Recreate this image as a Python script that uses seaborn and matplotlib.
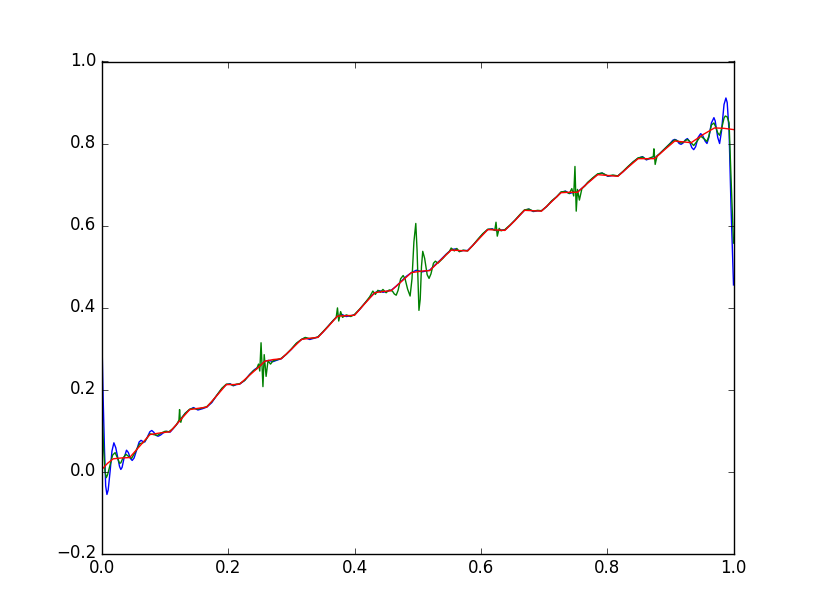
import seaborn as sns
from matplotlib import pyplot as plt
import numpy as np

# values
blue_x = [0.000, 0.002, 0.004, 0.006, 0.008, 0.010, 0.013, 0.016, 0.019, 0.022,
          0.025, 0.028, 0.030, 0.032, 0.035, 0.039, 0.042, 0.045, 0.048, 0.051,
          0.055, 0.059, 0.062, 0.065, 0.068, 0.072, 0.076, 0.079, 0.082, 0.086,
          0.089, 0.093, 0.097, 0.102,
          0.108, 0.116, 0.124, 0.132, 0.139, 0.145, 0.152, 0.159, 0.166, 0.174,
          0.182, 0.190, 0.197, 0.203, 0.208, 0.213, 0.218, 0.226, 0.234, 0.242,
          0.250, 0.258, 0.264, 0.271, 0.278, 0.284, 0.292, 0.300, 0.308, 0.316,
          0.322, 0.329, 0.336, 0.342, 0.350, 0.358, 0.366, 0.373, 0.380, 0.387,
          0.394, 0.400, 0.408, 0.416, 0.424, 0.432, 0.440, 0.445, 0.452, 0.458,
          0.466, 0.474, 0.482, 0.490, 0.498, 0.507, 0.513, 0.519, 0.527, 0.536,
          0.545, 0.553, 0.560, 0.566, 0.572, 0.579, 0.587, 0.595, 0.603, 0.611,
          0.618, 0.625, 0.632, 0.638, 0.646, 0.654, 0.662, 0.669, 0.676, 0.683,
          0.690, 0.696, 0.704, 0.712, 0.720, 0.727, 0.734, 0.740, 0.747, 0.753,
          0.761, 0.769, 0.777, 0.785, 0.792, 0.801, 0.809, 0.817, 0.825, 0.833,
          0.841, 0.849, 0.856, 0.862, 0.869, 0.875, 0.883, 0.891, 0.899, 0.904,
          0.907, 0.910, 0.914, 0.917, 0.920, 0.924, 0.927, 0.930, 0.934, 0.937,
          0.940, 0.944, 0.948, 0.951, 0.955, 0.958, 0.961, 0.965, 0.969, 0.971,
          0.975, 0.978, 0.981, 0.985, 0.988, 0.990, 0.993, 0.996, 1.000]
blue_y = [0.330, 0.180, 0.060, -0.035, -0.056, -0.045, 0.000, 0.050, 0.070, 0.058,
          0.035, 0.012, 0.005, 0.010, 0.032, 0.052, 0.046, 0.032, 0.027, 0.033,
          0.052, 0.072, 0.076, 0.073, 0.072, 0.084, 0.097, 0.100, 0.096, 0.088,
          0.086, 0.089, 0.094, 0.098,
          0.096, 0.110, 0.126, 0.142, 0.151, 0.156, 0.150, 0.153, 0.157, 0.168,
          0.186, 0.202, 0.212, 0.214, 0.209, 0.212, 0.213, 0.222, 0.237, 0.249,
          0.257, 0.269, 0.271, 0.268, 0.272, 0.275, 0.286, 0.298, 0.312, 0.322,
          0.326, 0.322, 0.325, 0.328, 0.340, 0.354, 0.368, 0.379, 0.383, 0.378,
          0.380, 0.382, 0.395, 0.410, 0.424, 0.436, 0.441, 0.437, 0.440, 0.442,
          0.452, 0.464, 0.476, 0.485, 0.491, 0.487, 0.489, 0.491, 0.503, 0.516,
          0.530, 0.541, 0.543, 0.537, 0.539, 0.539, 0.551, 0.565, 0.579, 0.590,
          0.592, 0.587, 0.589, 0.589, 0.600, 0.613, 0.626, 0.637, 0.640, 0.634,
          0.636, 0.636, 0.646, 0.659, 0.670, 0.681, 0.684, 0.678, 0.681, 0.682,
          0.692, 0.704, 0.715, 0.725, 0.728, 0.720, 0.722, 0.721, 0.731, 0.743,
          0.755, 0.764, 0.768, 0.760, 0.764, 0.764, 0.775, 0.787, 0.799, 0.808,
          0.810, 0.808, 0.800, 0.798, 0.801, 0.809, 0.812, 0.806, 0.790, 0.785,
          0.792, 0.815, 0.824, 0.820, 0.806, 0.800, 0.815, 0.850, 0.863, 0.855,
          0.815, 0.800, 0.830, 0.895, 0.911, 0.900, 0.830, 0.650, 0.455]

green_x = [0.000, 0.003, 0.005, 0.007, 0.009, 0.012, 0.017, 0.021, 0.025, 0.028,
           0.030, 0.033, 0.038, 0.043, 0.047, 0.053, 0.060, 0.065, 0.070, 0.076,
           0.082, 0.088, 0.094,
           0.100, 0.106, 0.112, 0.118, 0.122, 0.123, 0.124, 0.125, 0.127, 0.132,
           0.139, 0.145, 0.152, 0.159, 0.166, 0.174, 0.182, 0.190, 0.197, 0.203,
           0.208, 0.213, 0.218, 0.226, 0.234, 0.240, 0.245, 0.248, 0.250, 0.252,
           0.255, 0.257, 0.260, 0.263, 0.267, 0.271, 0.278, 0.284, 0.292, 0.300,
           0.308, 0.316, 0.322, 0.329, 0.336, 0.342, 0.350, 0.358, 0.366, 0.371,
           0.373, 0.375, 0.378, 0.381, 0.387, 0.394, 0.400, 0.408, 0.416, 0.424,
           0.429, 0.433, 0.437, 0.441, 0.445, 0.450, 0.455, 0.460, 0.463, 0.466,
           0.469, 0.473, 0.477, 0.480, 0.484, 0.488, 0.491, 0.494, 0.497, 0.499,
           0.502, 0.504, 0.506, 0.508, 0.511, 0.515, 0.518, 0.521, 0.525, 0.528,
           0.532, 0.536, 0.540, 0.545, 0.550, 0.553, 0.558, 0.562,
           0.566, 0.572, 0.579, 0.587, 0.595, 0.603, 0.611, 0.618, 0.622, 0.624,
           0.626, 0.629, 0.632, 0.638, 0.646, 0.654, 0.662, 0.669, 0.676, 0.683,
           0.690, 0.696, 0.704, 0.712, 0.720, 0.727, 0.734, 0.740, 0.744, 0.747,
           0.749, 0.751, 0.753, 0.756, 0.760, 0.765, 0.769, 0.777, 0.785, 0.792,
           0.801, 0.809, 0.817, 0.825, 0.833, 0.841, 0.849, 0.856, 0.862, 0.868,
           0.873, 0.874, 0.876, 0.879, 0.883, 0.891, 0.899, 0.907, 0.912, 0.917,
           0.922, 0.927, 0.932, 0.937, 0.942, 0.948, 0.953, 0.958, 0.961, 0.965,
           0.969, 0.972, 0.975, 0.978, 0.981, 0.985, 0.987, 0.990, 0.993, 0.996,
           1.000]
green_y = [0.150, 0.050, 0.000, -0.015, -0.008, 0.010, 0.040, 0.046, 0.032, 0.020,
           0.021, 0.032, 0.042, 0.036, 0.032, 0.048, 0.068, 0.070, 0.078, 0.092,
           0.090, 0.088, 0.094,
           0.098, 0.097, 0.104, 0.114, 0.125, 0.151, 0.128, 0.120, 0.132, 0.142,
           0.152, 0.154, 0.152, 0.155, 0.158, 0.170, 0.186, 0.203, 0.213, 0.213,
           0.210, 0.213, 0.214, 0.222, 0.236, 0.246, 0.250, 0.262, 0.245, 0.314,
           0.207, 0.285, 0.232, 0.270, 0.262, 0.270, 0.273, 0.276, 0.286, 0.299,
           0.313, 0.322, 0.327, 0.324, 0.326, 0.328, 0.341, 0.354, 0.368, 0.376,
           0.399, 0.367, 0.390, 0.376, 0.382, 0.378, 0.383, 0.396, 0.410, 0.426,
           0.440, 0.432, 0.442, 0.437, 0.444, 0.436, 0.443, 0.440, 0.433, 0.430,
           0.442, 0.470, 0.478, 0.470, 0.445, 0.428, 0.470, 0.560, 0.605, 0.540,
           0.393, 0.420, 0.500, 0.537, 0.520, 0.480, 0.471, 0.482, 0.508, 0.513,
           0.508, 0.514, 0.520, 0.529, 0.536, 0.545, 0.538, 0.544,
           0.536, 0.540, 0.538, 0.551, 0.566, 0.580, 0.591, 0.591, 0.588, 0.608,
           0.574, 0.593, 0.587, 0.590, 0.601, 0.613, 0.627, 0.638, 0.640, 0.635,
           0.637, 0.636, 0.646, 0.660, 0.670, 0.682, 0.683, 0.678, 0.690, 0.672,
           0.744, 0.635, 0.688, 0.662, 0.690, 0.697, 0.705, 0.716, 0.726, 0.728,
           0.721, 0.723, 0.721, 0.732, 0.744, 0.755, 0.765, 0.767, 0.761, 0.765,
           0.768, 0.787, 0.749, 0.770, 0.775, 0.787, 0.799, 0.809, 0.806, 0.801,
           0.805, 0.810, 0.803, 0.795, 0.805, 0.818, 0.812, 0.805, 0.818, 0.845,
           0.850, 0.840, 0.826, 0.820, 0.835, 0.862, 0.867, 0.865, 0.850, 0.720,
           0.557]

red_x = [0.000, 0.009, 0.018, 0.031, 0.044, 0.060, 0.076, 0.092, 0.108, 0.124,
         0.139, 0.152, 0.166, 0.182, 0.197, 0.208, 0.218, 0.234, 0.250, 0.258,
         0.271, 0.284, 0.300, 0.316, 0.329, 0.342, 0.358, 0.373, 0.387, 0.400,
         0.416, 0.432, 0.445, 0.458, 0.474, 0.490, 0.507, 0.519, 0.536, 0.553,
         0.566, 0.579, 0.595, 0.611, 0.625, 0.638, 0.654, 0.669, 0.683, 0.696,
         0.712, 0.727, 0.740, 0.753, 0.769, 0.785, 0.801, 0.817, 0.833, 0.849,
         0.862, 0.875, 0.891, 0.907, 0.920, 0.933, 0.952, 0.970, 0.985, 1.000]
red_y = [0.005, 0.020, 0.031, 0.033, 0.034, 0.062, 0.090, 0.094, 0.097, 0.125,
         0.151, 0.154, 0.157, 0.185, 0.212, 0.212, 0.213, 0.235, 0.257, 0.269,
         0.273, 0.275, 0.298, 0.322, 0.325, 0.327, 0.353, 0.379, 0.380, 0.381,
         0.409, 0.436, 0.439, 0.441, 0.463, 0.485, 0.489, 0.490, 0.515, 0.540,
         0.539, 0.538, 0.564, 0.590, 0.589, 0.588, 0.612, 0.637, 0.636, 0.635,
         0.658, 0.680, 0.681, 0.681, 0.703, 0.724, 0.722, 0.720, 0.742, 0.763,
         0.763, 0.763, 0.785, 0.806, 0.804, 0.802, 0.822, 0.838, 0.837, 0.834]

plt.style.use('classic')
fig = plt.figure(figsize=(8.15, 6.15), dpi=100, facecolor='white')
ax = fig.add_subplot(111)
fig.subplots_adjust(left=0.125, right=0.9, bottom=0.1, top=0.9)

sns.lineplot(x=blue_x, y=blue_y, color='b', lw=1, estimator=None, ax=ax)
sns.lineplot(x=green_x, y=green_y, color='g', lw=1, estimator=None, ax=ax)
sns.lineplot(x=red_x, y=red_y, color='r', lw=1, estimator=None, ax=ax)

ax.set_xlim(0, 1)
ax.set_ylim(-0.2, 1.0)
ax.set_xticks(np.arange(0, 1.01, 0.2))
ax.set_yticks(np.arange(-0.2, 1.01, 0.2))

fig.savefig('out.png', dpi=100, facecolor='white')
